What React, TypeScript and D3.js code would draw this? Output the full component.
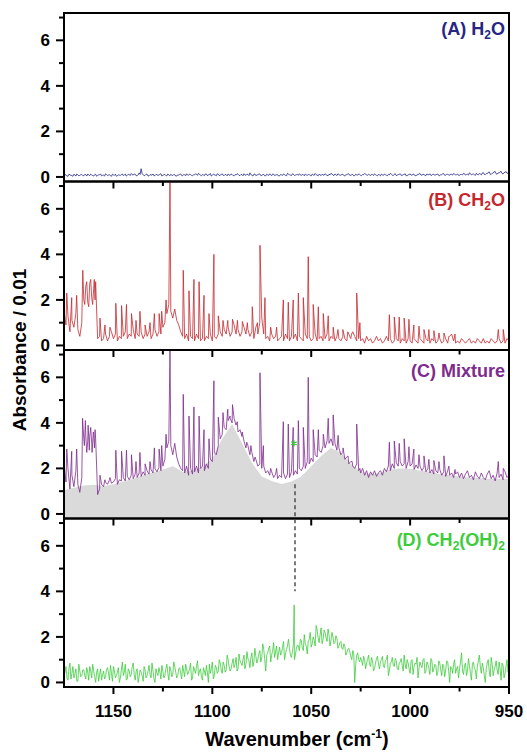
import React from 'react';
import * as d3 from 'd3';

// wavenumber grids: 1 cm-1 steps from 1175 down to 950 (226 samples), and the half-steps between them (225)
const gridWn: number[] = d3.range(1175, 949.5, -1);
const halfWn: number[] = d3.range(1174.5, 950, -1);

// (A) H2O
const aValues = [
  0.05,0.08,0.03,0.10,0.06,0.12,0.04,0.09,0.07,0.11,
  0.05,0.10,0.13,0.06,0.09,0.04,0.12,0.07,0.10,0.05,
  0.08,0.14,0.06,0.10,0.03,0.09,0.12,0.05,0.08,0.11,
  0.06,0.13,0.07,0.10,0.15,0.08,0.12,0.06,0.18,0.36,
  0.10,0.07,0.12,0.05,0.09,0.13,0.06,0.10,0.08,0.14,
  0.07,0.11,0.05,0.09,0.12,0.06,0.10,0.04,0.08,0.13,
  0.06,0.10,0.14,0.07,0.11,0.05,0.09,0.12,0.16,0.08,
  0.11,0.06,0.13,0.09,0.15,0.07,0.10,0.05,0.12,0.08,
  0.14,0.06,0.10,0.13,0.07,0.11,0.05,0.09,0.12,0.06,
  0.10,0.14,0.07,0.11,0.18,0.08,0.12,0.06,0.10,0.13,
  0.07,0.11,0.05,0.09,0.14,0.06,0.12,0.08,0.10,0.05,
  0.09,0.13,0.07,0.16,0.10,0.06,0.12,0.08,0.11,0.14,
  0.06,0.10,0.13,0.07,0.11,0.05,0.09,0.15,0.08,0.12,
  0.06,0.10,0.14,0.07,0.12,0.16,0.09,0.13,0.06,0.11,
  0.08,0.12,0.05,0.10,0.14,0.07,0.11,0.06,0.09,0.13,
  0.07,0.11,0.15,0.08,0.12,0.06,0.10,0.14,0.07,0.11,
  0.05,0.09,0.13,0.07,0.11,0.16,0.08,0.12,0.06,0.10,
  0.14,0.07,0.11,0.05,0.09,0.13,0.08,0.12,0.06,0.10,
  0.15,0.08,0.12,0.06,0.10,0.14,0.07,0.11,0.09,0.13,
  0.06,0.10,0.14,0.08,0.12,0.07,0.11,0.15,0.09,0.13,
  0.07,0.11,0.16,0.08,0.12,0.18,0.09,0.13,0.07,0.11,
  0.15,0.09,0.19,0.10,0.14,0.22,0.11,0.17,0.24,0.12,
  0.18,0.25,0.13,0.20,0.16,0.22,
];
const aHalf = [
  0.10,0.04,0.12,0.07,0.03,0.09,0.13,0.05,0.10,0.06,
  0.11,0.04,0.08,0.12,0.06,0.10,0.03,0.09,0.13,0.07,
  0.04,0.11,0.08,0.05,0.12,0.07,0.03,0.10,0.06,0.13,
  0.09,0.04,0.12,0.06,0.10,0.13,0.05,0.09,0.11,0.14,
  0.06,0.12,0.04,0.10,0.08,0.05,0.11,0.07,0.12,0.04,
  0.10,0.06,0.13,0.05,0.08,0.11,0.04,0.09,0.12,0.06,
  0.10,0.05,0.09,0.12,0.06,0.10,0.14,0.07,0.11,0.05,
  0.09,0.13,0.06,0.10,0.04,0.12,0.08,0.14,0.06,0.10,
  0.07,0.11,0.05,0.09,0.13,0.06,0.10,0.14,0.07,0.11,
  0.05,0.09,0.12,0.06,0.10,0.04,0.13,0.08,0.12,0.06,
  0.10,0.05,0.12,0.07,0.09,0.13,0.06,0.10,0.04,0.11,
  0.07,0.10,0.05,0.12,0.08,0.14,0.06,0.10,0.07,0.09,
  0.12,0.05,0.09,0.11,0.06,0.13,0.07,0.10,0.05,0.09,
  0.12,0.07,0.10,0.05,0.09,0.12,0.06,0.10,0.14,0.07,
  0.11,0.06,0.09,0.13,0.07,0.10,0.05,0.12,0.08,0.11,
  0.06,0.10,0.13,0.07,0.09,0.12,0.06,0.10,0.05,0.09,
  0.13,0.07,0.10,0.05,0.09,0.12,0.06,0.14,0.08,0.11,
  0.07,0.10,0.14,0.06,0.11,0.08,0.12,0.05,0.09,0.13,
  0.08,0.11,0.06,0.13,0.09,0.07,0.12,0.08,0.11,0.06,
  0.10,0.14,0.07,0.11,0.09,0.13,0.08,0.12,0.10,0.07,
  0.12,0.09,0.14,0.11,0.08,0.15,0.12,0.10,0.16,0.09,
  0.13,0.17,0.11,0.15,0.20,0.12,0.16,0.23,0.14,0.18,
  0.21,0.15,0.19,0.24,0.17,
];

// (B) CH2O : baseline on the grid + sharp rotational lines
const bBase = [
  1.5,0.9,1.3,0.6,1.1,0.8,1.4,0.7,0.4,1.0,
  2.0,2.6,1.9,2.7,2.1,2.5,2.8,0.3,0.4,0.2,
  0.3,0.5,0.2,0.4,0.6,0.3,0.5,0.2,0.4,0.3,
  0.4,0.6,0.3,0.5,0.4,0.7,0.3,0.5,0.4,0.6,
  0.3,0.5,0.4,0.6,0.3,0.5,0.7,0.4,0.6,0.5,
  0.8,1.0,1.4,1.8,1.5,1.2,1.6,1.1,0.9,0.6,
  0.4,0.3,0.5,0.2,0.4,0.3,0.2,0.5,0.3,0.2,
  0.3,0.2,0.4,0.3,0.5,0.2,0.4,0.3,0.5,0.6,
  0.4,0.7,0.5,0.8,0.4,0.6,0.9,0.5,0.7,0.4,
  0.6,0.8,0.5,0.7,0.4,0.6,0.3,0.8,0.5,1.0,
  1.2,0.5,0.3,0.4,0.2,0.5,0.3,0.4,0.2,0.3,
  0.4,0.2,0.5,0.3,0.2,0.4,0.3,0.5,0.2,0.4,
  0.3,0.2,0.5,0.3,0.4,0.2,0.3,0.5,0.2,0.3,
  0.4,0.2,0.3,0.5,0.2,0.4,0.3,0.2,0.4,0.3,
  0.2,0.4,0.3,0.2,0.5,0.3,0.6,0.4,0.2,0.3,
  0.2,0.3,0.1,0.4,0.2,0.3,0.1,0.2,0.4,0.2,
  0.3,0.1,0.2,0.4,0.2,0.3,0.1,0.2,0.3,0.2,
  0.1,0.3,0.2,0.1,0.3,0.2,0.1,0.3,0.2,0.1,
  0.3,0.2,0.1,0.3,0.2,0.1,0.3,0.2,0.1,0.2,
  0.3,0.1,0.2,0.3,0.1,0.4,0.5,0.2,0.1,0.2,
  0.1,0.3,0.2,0.1,0.2,0.3,0.1,0.2,0.1,0.3,
  0.2,0.1,0.3,0.1,0.2,0.1,0.3,0.2,0.1,0.2,
  0.3,0.1,0.2,0.1,0.3,0.2,
];
const bPeakWn = [
  1173.6,1171.1,1168.6,1165.5,1164.5,1163.5,1162.5,1161.5,1160.5,1159.7,1159.3,
  1156.8,1154.3,1151.8,1148.8,1145.9,1143.4,1140.9,1138.6,1136.6,1134.0,1131.5,1129.3,1126.9,1125.6,1123.4,1121.4,
  1114.7,1111.8,1109.3,1106.7,1104.2,1101.7,1099.2,1097.0,1094.6,1092.2,1089.8,1087.3,1084.8,1082.3,1079.8,1077.2,1075.9,1073.4,
  1070.5,1067.5,1064.1,1061.6,1059.1,1056.5,1054.0,1051.5,1049.0,1046.4,1043.9,1041.4,1038.9,1036.5,1034.0,1031.5,1029.6,1027.0,1025.4,
  1010.5,1008.0,1005.5,1003.0,1000.6,998.1,995.5,993.0,990.5,988.0,985.4,982.9,980.4,977.3,955.4,952.9,
];
const bPeakVal = [
  2.3,2.1,2.2,3.3,1.8,2.8,1.7,2.9,1.8,2.9,2.0,
  1.2,0.9,0.8,1.85,1.75,1.8,1.4,1.1,1.5,0.9,1.0,1.4,1.4,1.5,2.0,7.4,
  3.3,2.4,2.9,2.8,2.2,1.4,4.0,1.3,1.1,1.1,1.15,1.1,1.05,1.0,1.7,1.0,4.4,2.1,
  0.8,0.8,2.0,1.9,2.0,2.3,2.1,3.9,1.8,1.7,1.4,1.3,0.8,0.7,0.7,0.6,0.5,2.3,1.0,
  1.35,1.25,1.25,1.2,1.15,0.9,0.85,0.7,0.7,0.65,0.55,0.55,0.4,0.5,0.7,0.7,
];

// (C) Mixture : grey broad band (5 cm-1 steps) + purple spectrum
const cGreyWn = d3.range(1175, 949.5, -5);
const cGreyVal = [
  1.05,1.15,1.25,1.28,1.22,1.3,1.42,1.55,1.7,1.82,
  1.95,2.1,1.85,1.9,2.05,2.45,3.3,3.95,3.1,2.25,
  1.65,1.45,1.32,1.42,1.65,2.1,2.55,2.9,2.7,2.2,
  1.85,1.75,1.8,1.95,2.0,1.98,1.9,1.85,1.75,1.7,
  1.65,1.6,1.58,1.55,1.55,1.55,
];
const cBase = [
  2.2,1.4,2.0,1.1,1.7,1.2,1.9,1.3,0.95,1.6,
  3.3,3.5,3.2,3.4,3.1,3.5,3.3,0.85,1.1,1.3,
  1.2,1.4,1.3,1.5,1.35,1.4,1.55,1.3,1.5,1.45,
  1.6,1.45,1.65,1.5,1.7,1.55,1.75,1.6,1.8,1.65,
  1.85,1.7,1.9,1.75,1.95,1.8,2.0,1.85,2.05,1.9,
  2.1,2.4,2.9,3.2,3.0,2.6,3.1,2.5,2.2,2.0,
  1.9,1.8,2.1,1.7,2.0,1.75,1.85,2.1,1.8,2.0,
  2.1,1.9,2.2,2.0,2.4,2.3,2.7,2.6,3.0,3.3,
  3.5,3.8,3.7,4.1,4.3,4.0,4.2,3.9,3.6,3.7,
  3.4,3.2,2.9,3.0,2.6,2.7,2.3,2.4,2.1,2.2,
  2.0,2.1,1.8,1.9,1.7,1.85,1.6,1.75,1.55,1.7,
  1.6,1.8,1.55,1.75,1.6,1.85,1.7,1.9,1.75,2.0,
  1.9,2.1,2.0,2.3,2.2,2.45,2.3,2.6,2.5,2.8,
  2.7,3.0,2.9,3.2,3.1,3.3,3.0,3.1,2.8,2.9,
  2.6,2.7,2.4,2.5,2.2,2.3,2.1,2.0,2.2,1.9,
  1.8,2.0,1.7,1.9,1.6,1.85,1.7,1.9,1.65,1.8,
  1.9,1.7,2.0,1.85,2.1,1.9,2.2,2.0,2.25,2.1,
  2.3,2.1,2.2,2.0,2.3,2.1,2.2,1.95,2.15,2.0,
  2.1,1.9,2.05,1.85,2.0,1.8,1.95,1.75,1.9,1.8,
  1.95,1.7,1.85,1.65,1.9,1.7,1.8,1.6,1.75,1.85,
  1.6,1.8,1.55,1.75,1.9,1.6,1.7,1.5,1.85,1.65,
  1.55,1.8,1.6,1.5,1.75,1.9,1.55,1.7,1.45,1.8,
  1.6,1.75,1.5,1.85,1.6,1.7,
];
const cPeakWn = [
  1173.6,1171.1,1168.6,1165.6,1164.7,1164.2,1163.5,1162.8,1162.2,1161.5,1160.8,1160.2,1159.6,1159.3,
  1156.8,1154.3,1151.8,1148.8,1145.9,1143.4,1140.9,1138.6,1136.6,1134.0,1131.5,1129.3,1126.9,1125.6,1123.4,1121.4,
  1114.7,1111.8,1109.3,1106.7,1104.2,1101.7,1099.2,1097.0,1094.6,1092.2,1091.0,1089.8,1087.4,1084.9,1082.6,1080.5,1078.4,1075.9,1074.2,
  1070.5,1067.5,1064.1,1061.6,1059.1,1056.5,1054.0,1051.5,1049.0,1046.4,1043.9,1041.4,1038.9,1036.4,1033.9,1031.4,1029.3,1027.0,1025.4,
  1010.5,1008.0,1005.5,1003.0,1000.6,998.1,995.5,993.0,990.5,988.0,985.4,982.9,980.4,977.3,955.4,952.9,
];
const cPeakVal = [
  2.85,2.75,2.85,4.2,3.0,4.1,2.7,3.9,2.8,3.8,2.7,3.6,2.9,3.7,
  1.7,1.5,1.6,2.8,2.75,2.8,2.6,2.3,2.7,2.2,2.3,2.9,2.85,3.0,3.5,7.4,
  5.25,4.3,4.7,4.3,3.7,3.3,5.85,4.25,4.45,4.6,4.2,4.8,4.05,3.6,3.15,3.0,2.5,6.2,3.0,
  2.0,2.0,4.05,3.95,3.8,4.1,3.8,6.0,3.7,3.7,3.5,4.2,4.35,3.45,2.9,2.55,2.3,3.95,2.0,
  3.15,3.2,3.1,3.3,2.95,2.85,2.6,2.55,2.4,2.35,2.3,2.55,2.1,1.95,2.3,2.0,
];

// (D) CH2(OH)2
const dValues = [
  0.3,0.7,0.1,0.85,0.4,0.2,0.6,0.05,0.5,0.3,
  0.55,0.15,0.45,0.7,0.2,0.5,0.0,0.6,0.35,0.1,
  0.5,0.25,0.65,0.1,0.4,0.7,0.2,0.45,0.0,0.55,
  0.3,0.8,0.15,0.5,0.35,0.85,0.1,0.6,0.25,0.45,
  0.05,0.55,0.3,0.75,0.2,0.5,0.0,0.4,0.65,0.15,
  0.5,0.3,0.8,0.1,0.55,0.35,0.7,0.2,0.6,0.4,
  0.75,0.25,0.6,0.45,0.85,0.2,0.55,0.7,0.3,0.6,
  0.1,0.5,0.75,0.0,0.4,0.9,0.3,0.65,0.5,0.85,
  0.4,0.75,0.55,1.0,0.5,0.85,0.65,1.1,0.6,0.95,
  0.75,1.2,0.8,1.05,0.65,1.3,0.9,1.15,1.0,1.4,
  1.1,1.45,0.5,1.3,1.6,1.2,1.75,1.35,1.0,1.55,
  1.3,1.8,1.25,1.6,1.5,1.1,1.7,1.2,1.65,1.4,
  1.85,1.4,1.7,1.25,1.9,1.55,2.0,1.6,2.3,1.75,
  2.4,1.9,2.2,1.8,2.1,1.85,2.0,1.75,1.95,1.6,
  1.8,1.45,1.6,1.3,1.5,1.15,1.4,0.0,1.2,1.0,
  1.1,0.75,1.0,0.85,1.2,0.7,0.95,0.6,1.05,0.8,
  0.9,1.15,0.65,1.0,0.3,0.85,1.1,0.7,0.95,0.55,
  0.9,0.75,1.2,0.6,0.85,0.4,1.0,0.7,0.8,0.2,
  0.9,0.65,1.05,0.5,0.8,0.35,0.95,0.6,0.75,0.45,
  0.85,0.3,0.7,0.55,0.9,0.0,0.65,0.8,0.4,0.7,
  0.6,1.3,0.35,0.85,0.5,0.75,0.1,0.9,0.55,0.7,
  1.2,0.4,0.65,0.0,0.85,0.5,1.1,0.3,0.7,0.55,
  0.9,0.1,0.75,0.4,1.0,0.6,
];
const dHalf = [
  0.45,0.2,0.6,0.15,0.7,0.35,0.05,0.8,0.25,0.55,
  0.3,0.65,0.1,0.5,0.8,0.25,0.45,0.05,0.6,0.35,
  0.15,0.55,0.4,0.75,0.05,0.5,0.3,0.65,0.2,0.9,
  0.45,0.1,0.6,0.25,0.7,0.35,0.5,0.0,0.55,0.3,
  0.7,0.2,0.5,0.35,0.85,0.15,0.6,0.3,0.45,0.75,
  0.2,0.6,0.4,0.7,0.25,0.9,0.45,0.3,0.65,0.15,
  0.5,0.8,0.35,0.6,0.1,0.7,0.4,0.95,0.5,0.25,
  0.65,0.3,0.45,0.8,0.6,0.15,0.75,0.4,1.0,0.55,
  0.9,0.45,1.2,0.7,0.6,1.05,0.8,0.5,1.25,0.85,
  1.0,0.6,1.35,0.95,1.1,0.7,1.5,0.85,1.25,0.9,
  1.7,1.0,1.2,1.5,0.9,1.4,1.1,1.6,1.3,1.2,
  1.55,1.0,1.45,1.9,1.2,1.35,1.0,1.5,1.6,1.9,
  1.5,2.1,1.6,1.8,2.2,1.7,1.85,2.5,1.95,2.1,
  1.7,2.3,1.95,2.35,1.6,2.2,1.7,2.05,1.5,1.75,
  1.5,1.7,1.2,1.45,1.35,1.0,1.25,0.8,1.3,0.9,
  0.95,1.15,0.6,1.0,0.8,1.1,0.5,0.85,1.15,0.6,
  1.0,0.7,0.95,1.2,0.5,0.9,0.75,1.05,0.6,0.85,
  1.05,0.5,0.8,1.0,0.6,0.95,0.35,0.85,1.1,0.6,
  0.75,1.0,0.4,0.9,0.6,1.05,0.45,0.8,0.3,0.95,
  0.55,0.8,0.25,0.95,0.5,0.7,0.4,1.0,0.6,0.2,
  0.9,0.5,0.75,0.3,1.05,0.4,0.8,0.6,0.15,0.95,
  0.7,0.85,0.3,0.6,1.0,0.25,0.8,0.55,0.95,0.35,
  0.6,0.85,0.2,0.7,0.45,
];
const dPeakWn = [1058.6];
const dPeakVal = [3.4];

const markerWn = 1058.2;
const markerTopC = 1.3;
const markerBottomD = 4.0;
const starWn = 1058.7;
const starVal = 3.1;

const xMajor = [1150, 1100, 1050, 1000, 950];
const xMinor = [1125, 1075, 1025, 975];
const yMajor = [0, 2, 4, 6];
const yMinor = [1, 3, 5, 7];

type Pt = [number, number];

function merge(...sets: [number[], number[]][]): Pt[] {
  const pts: Pt[] = [];
  sets.forEach(([ws, vs]) => ws.forEach((w, i) => pts.push([w, vs[i]])));
  pts.sort((a, b) => b[0] - a[0]);
  return pts;
}

const W = 527, H = 753;
const X0 = 64, X1 = 509;
const TOP = 13, PH = 168.5;
const FONT = "'Liberation Sans', Arial, Helvetica, sans-serif";

const x = d3.scaleLinear().domain([1175, 950]).range([X0, X1]);

function yScale(i: number) {
  return d3.scaleLinear().domain([-0.2, 7.2]).range([TOP + (i + 1) * PH, TOP + i * PH]);
}

const panels = [
  { key: 'A', color: '#262685', pts: merge([gridWn, aValues], [halfWn, aHalf]) },
  { key: 'B', color: '#c4282e', pts: merge([gridWn, bBase], [bPeakWn, bPeakVal]) },
  { key: 'C', color: '#7d2b8d', pts: merge([gridWn, cBase], [cPeakWn, cPeakVal]) },
  { key: 'D', color: '#3ccc3c', pts: merge([gridWn, dValues], [halfWn, dHalf], [dPeakWn, dPeakVal]) },
];

function Label({ k }: { k: string }) {
  const common = { x: 505, textAnchor: 'end' as const, fontFamily: FONT, fontWeight: 700, fontSize: 18 };
  if (k === 'A')
    return <text {...common} y={35} fill="#262685">(A) H<tspan dy={4} fontSize={12}>2</tspan><tspan dy={-4}>O</tspan></text>;
  if (k === 'B')
    return <text {...common} y={206} fill="#c4282e">(B) CH<tspan dy={4} fontSize={12}>2</tspan><tspan dy={-4}>O</tspan></text>;
  if (k === 'C')
    return <text {...common} y={377} fill="#7d2b8d">(C) Mixture</text>;
  return (
    <text {...common} y={546} fill="#3ccc3c">
      (D) CH<tspan dy={4} fontSize={12}>2</tspan><tspan dy={-4}>(OH)</tspan><tspan dy={4} fontSize={12}>2</tspan>
    </text>
  );
}

export default function App() {
  return (
    <svg width={W} height={H} style={{ position: 'absolute', left: 0, top: 0, background: '#fff' }}>
      <defs>
        {panels.map((p, i) => (
          <clipPath id={`clip${i}`} key={p.key}>
            <rect x={X0} y={TOP + i * PH} width={X1 - X0} height={PH} />
          </clipPath>
        ))}
      </defs>
      {panels.map((p, i) => {
        const y = yScale(i);
        const lg = d3.line<Pt>().x(d => x(d[0])).y(d => y(d[1]));
        const bottom = TOP + (i + 1) * PH;
        return (
          <g key={p.key}>
            <g clipPath={`url(#clip${i})`}>
              {p.key === 'C' && (
                <path
                  d={d3.area<number>().x((_, j) => x(cGreyWn[j])).y0(y(-0.2)).y1((v) => y(v))(cGreyVal) || ''}
                  fill="#dadada"
                />
              )}
              <path d={lg(p.pts) || ''} fill="none" stroke={p.color} strokeWidth={0.8} strokeLinejoin="round" />
            </g>
            {yMajor.map(t => (
              <g key={'M' + t}>
                <line x1={X0 - 8} x2={X0} y1={y(t)} y2={y(t)} stroke="#000" strokeWidth={2} />
                <text x={50} y={y(t) + 6} textAnchor="end" fontFamily={FONT} fontWeight={700} fontSize={17}>{t}</text>
              </g>
            ))}
            {yMinor.map(t => (
              <line key={'m' + t} x1={X0 - 5} x2={X0} y1={y(t)} y2={y(t)} stroke="#000" strokeWidth={2} />
            ))}
            {xMajor.map(t => (
              <line key={'xM' + t} x1={x(t)} x2={x(t)} y1={bottom} y2={bottom + 7} stroke="#000" strokeWidth={2} />
            ))}
            {xMinor.map(t => (
              <line key={'xm' + t} x1={x(t)} x2={x(t)} y1={bottom} y2={bottom + 4.5} stroke="#000" strokeWidth={2} />
            ))}
            <rect x={X0} y={TOP + i * PH} width={X1 - X0} height={PH} fill="none" stroke="#000" strokeWidth={2} />
            <Label k={p.key} />
          </g>
        );
      })}
      <line
        x1={x(markerWn)} x2={x(markerWn)}
        y1={yScale(2)(markerTopC)} y2={yScale(3)(markerBottomD)}
        stroke="#444" strokeWidth={1.4} strokeDasharray="4,3"
      />
      <path
        d={d3.symbol().type(d3.symbolAsterisk).size(28)() || ''}
        transform={`translate(${x(starWn)},${yScale(2)(starVal)})`}
        fill="none" stroke="#2fd02f" strokeWidth={1.3}
      />
      {xMajor.map(t => (
        <text key={'xl' + t} x={x(t)} y={717} textAnchor="middle" fontFamily={FONT} fontWeight={700} fontSize={17}>{t}</text>
      ))}
      <text x={297} y={746} textAnchor="middle" fontFamily={FONT} fontWeight={700} fontSize={20}>
        Wavenumber (cm<tspan dy={-8} fontSize={12}>-1</tspan><tspan dy={8}>)</tspan>
      </text>
      <text
        transform={`translate(26, ${TOP + 2 * PH}) rotate(-90)`}
        textAnchor="middle" fontFamily={FONT} fontWeight={700} fontSize={19}
      >
        Absorbance / 0.01
      </text>
    </svg>
  );
}
